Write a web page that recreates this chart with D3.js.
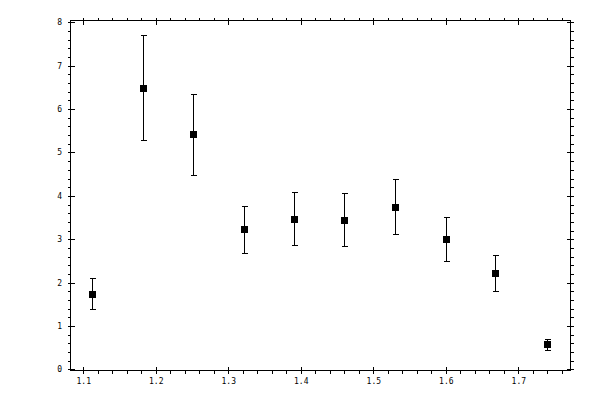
<!DOCTYPE html>
<meta charset="utf-8">
<head>
  <title>Error bar plot</title>
  <style>
    body { margin: 0; background: #fff; }
    text { font-family: "DejaVu Sans Mono", monospace; font-size: 8px; fill: #000; }
  </style>
</head>
<body>
<script src="https://d3js.org/d3.v7.min.js"></script>
<script>
var WIDTH = 600,
    HEIGHT = 400;

// measured data
var xValues = [1.112, 1.183, 1.252, 1.321, 1.391, 1.460, 1.530, 1.600, 1.668, 1.739];
var yValues = [1.75, 6.48, 5.42, 3.23, 3.46, 3.44, 3.74, 3.00, 2.22, 0.58];
var yHigh   = [2.10, 7.70, 6.34, 3.76, 4.08, 4.06, 4.38, 3.52, 2.645, 0.71];
var yLow    = [1.39, 5.29, 4.47, 2.68, 2.86, 2.84, 3.115, 2.49, 1.80, 0.44];

var xMajor = [1.1, 1.2, 1.3, 1.4, 1.5, 1.6, 1.7];
var xLabels = ["1.1", "1.2", "1.3", "1.4", "1.5", "1.6", "1.7"];
var yMajor = [0, 1, 2, 3, 4, 5, 6, 7, 8];
var yLabels = ["0", "1", "2", "3", "4", "5", "6", "7", "8"];

// plot box (window.top is taken, so prefixed names)
var plotLeft = 70, plotRight = 570, plotTop = 20, plotBottom = 370;

var x = d3.scaleLinear().domain([1.0817, 1.7713]).range([plotLeft, plotRight]);
var y = d3.scaleLinear().domain([-0.012, 8.053]).range([plotBottom, plotTop]);

var xMinor = d3.range(1.10, 1.77, 0.02).filter(function(v) {
  return Math.abs(v * 10 - Math.round(v * 10)) > 0.01;
});
var yMinor = d3.range(0, 8.01, 0.2).filter(function(v) {
  return Math.abs(v - Math.round(v)) > 0.01;
});

var svg = d3.select("body").append("svg")
    .attr("width", WIDTH)
    .attr("height", HEIGHT);

var g = svg.append("g")
    .attr("stroke", "#000")
    .attr("stroke-width", 1)
    .attr("shape-rendering", "crispEdges");

// frame
g.append("rect")
    .attr("x", plotLeft + 0.5)
    .attr("y", plotTop + 0.5)
    .attr("width", plotRight - plotLeft)
    .attr("height", plotBottom - plotTop)
    .attr("fill", "none");

// x ticks, bottom and top
[plotBottom, plotTop].forEach(function(edge) {
  var out = edge === plotBottom ? 1 : -1;
  xMajor.forEach(function(v) {
    var px = Math.round(x(v)) + 0.5;
    g.append("line").attr("x1", px).attr("x2", px)
      .attr("y1", edge + 0.5 - 4 * out).attr("y2", edge + 0.5 + 3 * out);
  });
  xMinor.forEach(function(v) {
    var px = Math.round(x(v)) + 0.5;
    g.append("line").attr("x1", px).attr("x2", px)
      .attr("y1", edge + 0.5).attr("y2", edge + 0.5 + 3 * out);
  });
});

// y ticks, left and right
[plotLeft, plotRight].forEach(function(edge) {
  var out = edge === plotLeft ? -1 : 1;
  yMajor.forEach(function(v) {
    var py = Math.round(y(v)) + 0.5;
    g.append("line").attr("y1", py).attr("y2", py)
      .attr("x1", edge + 0.5 - 4 * out).attr("x2", edge + 0.5 + 3 * out);
  });
  yMinor.forEach(function(v) {
    var py = Math.round(y(v)) + 0.5;
    g.append("line").attr("y1", py).attr("y2", py)
      .attr("x1", edge + 0.5).attr("x2", edge + 0.5 + 3 * out);
  });
});

// tick labels
svg.selectAll(".xlab")
  .data(xMajor)
  .enter().append("text")
    .attr("x", function(d) { return x(d) + 0.5; })
    .attr("y", 384)
    .attr("text-anchor", "middle")
    .text(function(d, i) { return xLabels[i]; });

svg.selectAll(".ylab")
  .data(yMajor)
  .enter().append("text")
    .attr("x", 62)
    .attr("y", function(d) { return y(d) + 3; })
    .attr("text-anchor", "end")
    .text(function(d, i) { return yLabels[i]; });

// error bars
var pts = svg.append("g")
    .attr("stroke", "#000")
    .attr("shape-rendering", "crispEdges");

xValues.forEach(function(xv, i) {
  var px = Math.round(x(xv)) + 0.5;
  pts.append("line").attr("x1", px).attr("x2", px)
    .attr("y1", y(yHigh[i])).attr("y2", y(yLow[i]));
  [yHigh[i], yLow[i]].forEach(function(v) {
    var py = Math.round(y(v)) + 0.5;
    pts.append("line").attr("x1", px - 3).attr("x2", px + 3)
      .attr("y1", py).attr("y2", py);
  });
});

// markers
svg.selectAll(".pt")
  .data(xValues)
  .enter().append("rect")
    .attr("x", function(d) { return Math.round(x(d)) - 3; })
    .attr("y", function(d, i) { return Math.round(y(yValues[i])) - 3; })
    .attr("width", 7)
    .attr("height", 7)
    .attr("fill", "#000")
    .attr("shape-rendering", "crispEdges");
</script>
